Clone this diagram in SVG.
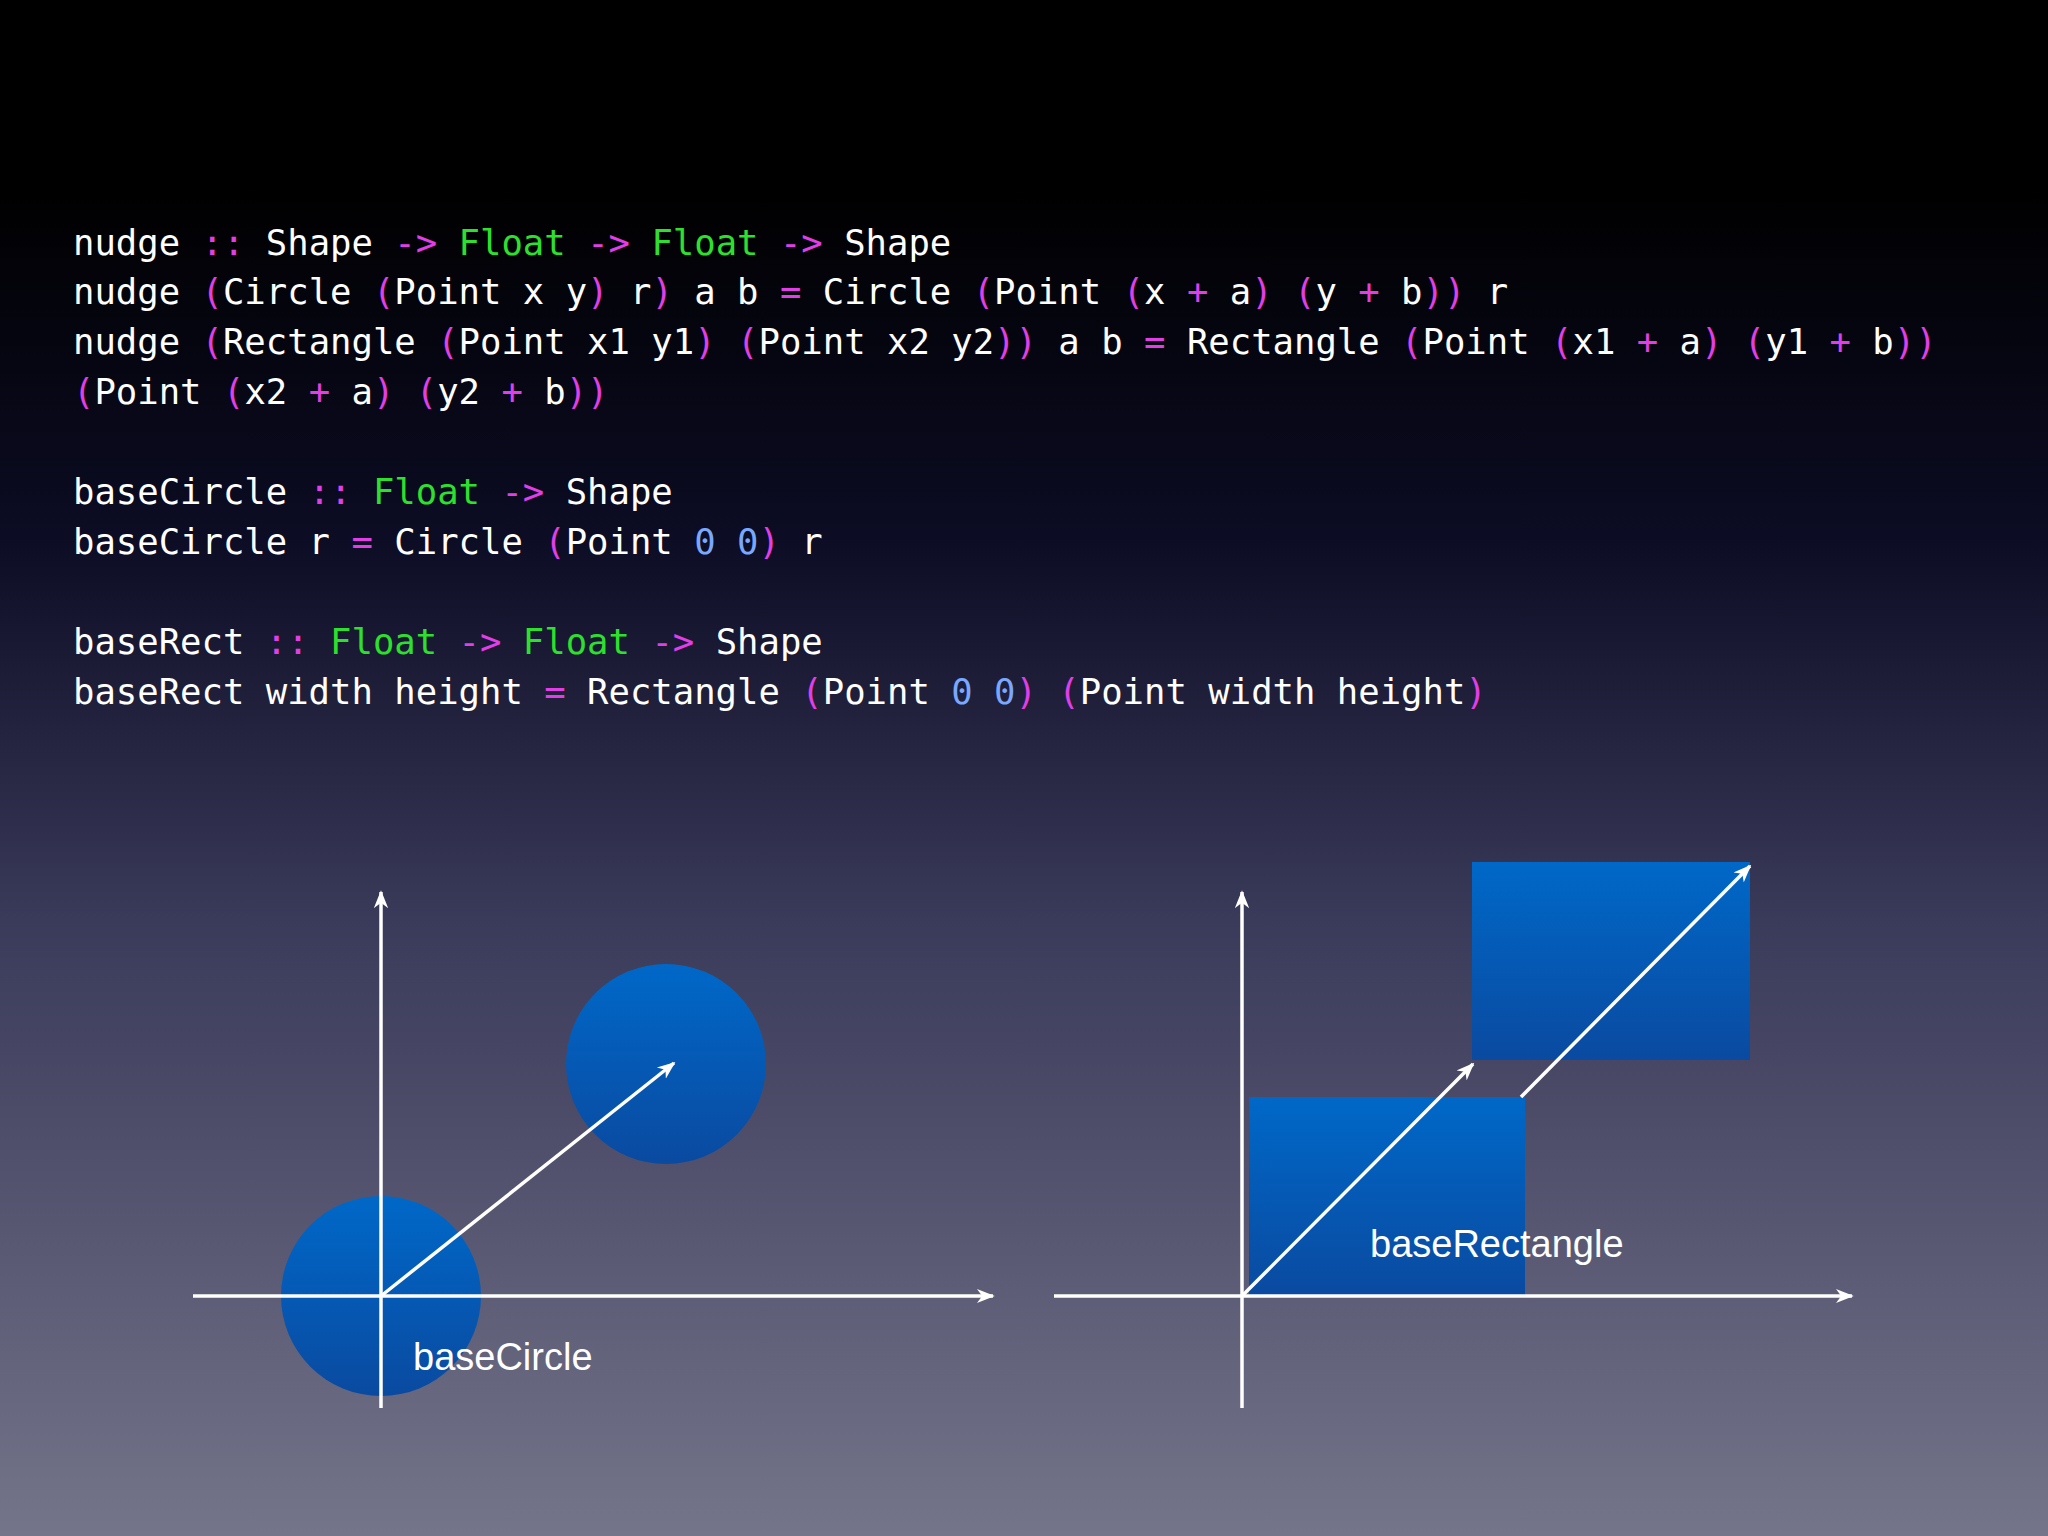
<svg xmlns="http://www.w3.org/2000/svg" width="2048" height="1536" viewBox="0 0 2048 1536">
<defs>
<linearGradient id="bg" x1="0" y1="0" x2="0" y2="1">
<stop offset="0" stop-color="#000000"/><stop offset="0.12" stop-color="#000000"/>
<stop offset="0.35" stop-color="#0c0c24"/><stop offset="0.6" stop-color="#3a3a5a"/>
<stop offset="1" stop-color="#74748a"/></linearGradient>
<linearGradient id="blue" x1="0" y1="0" x2="0" y2="1">
<stop offset="0" stop-color="#0068c8"/><stop offset="1" stop-color="#0a4aa0"/></linearGradient>
<marker id="ah2" viewBox="0 0 10 10" refX="9" refY="5" markerWidth="18" markerHeight="18" orient="auto" markerUnits="userSpaceOnUse"><path d="M0,1 L10,5 L0,9 L3,5 z" fill="#fff"/></marker>
</defs>
<style>
.c{font-family:"DejaVu Sans Mono","Liberation Mono",monospace;font-size:35.6px;fill:#fff;white-space:pre}
.p{fill:#e23ee8}.g{fill:#2ee02e}.n{fill:#7aa8ff}
.l{font-family:"Liberation Sans",Arial,sans-serif;font-size:38px;fill:#fff}
.ax{stroke:#fff;stroke-width:3.5;fill:none}
</style>
<rect width="2048" height="1536" fill="url(#bg)"/>
<g id="code">
<text class="c" x="73" y="255">nudge <tspan class="p">::</tspan> Shape <tspan class="p">-&gt;</tspan> <tspan class="g">Float</tspan> <tspan class="p">-&gt;</tspan> <tspan class="g">Float</tspan> <tspan class="p">-&gt;</tspan> Shape</text>
<text class="c" x="73" y="304">nudge <tspan class="p">(</tspan>Circle <tspan class="p">(</tspan>Point x y<tspan class="p">)</tspan> r<tspan class="p">)</tspan> a b <tspan class="p">=</tspan> Circle <tspan class="p">(</tspan>Point <tspan class="p">(</tspan>x <tspan class="p">+</tspan> a<tspan class="p">)</tspan> <tspan class="p">(</tspan>y <tspan class="p">+</tspan> b<tspan class="p">))</tspan> r</text>
<text class="c" x="73" y="354">nudge <tspan class="p">(</tspan>Rectangle <tspan class="p">(</tspan>Point x1 y1<tspan class="p">)</tspan> <tspan class="p">(</tspan>Point x2 y2<tspan class="p">))</tspan> a b <tspan class="p">=</tspan> Rectangle <tspan class="p">(</tspan>Point <tspan class="p">(</tspan>x1 <tspan class="p">+</tspan> a<tspan class="p">)</tspan> <tspan class="p">(</tspan>y1 <tspan class="p">+</tspan> b<tspan class="p">))</tspan></text>
<text class="c" x="73" y="404"><tspan class="p">(</tspan>Point <tspan class="p">(</tspan>x2 <tspan class="p">+</tspan> a<tspan class="p">)</tspan> <tspan class="p">(</tspan>y2 <tspan class="p">+</tspan> b<tspan class="p">))</tspan></text>
<text class="c" x="73" y="504">baseCircle <tspan class="p">::</tspan> <tspan class="g">Float</tspan> <tspan class="p">-&gt;</tspan> Shape</text>
<text class="c" x="73" y="554">baseCircle r <tspan class="p">=</tspan> Circle <tspan class="p">(</tspan>Point <tspan class="n">0</tspan> <tspan class="n">0</tspan><tspan class="p">)</tspan> r</text>
<text class="c" x="73" y="654">baseRect <tspan class="p">::</tspan> <tspan class="g">Float</tspan> <tspan class="p">-&gt;</tspan> <tspan class="g">Float</tspan> <tspan class="p">-&gt;</tspan> Shape</text>
<text class="c" x="73" y="704">baseRect width height <tspan class="p">=</tspan> Rectangle <tspan class="p">(</tspan>Point <tspan class="n">0</tspan> <tspan class="n">0</tspan><tspan class="p">)</tspan> <tspan class="p">(</tspan>Point width height<tspan class="p">)</tspan></text>
</g>
<g id="circle-diagram">
<circle cx="381" cy="1296" r="100" fill="url(#blue)"/>
<circle cx="666" cy="1064" r="100" fill="url(#blue)"/>
<text class="l" x="413" y="1370">baseCircle</text>
</g>
<g id="rect-diagram">
<rect x="1249" y="1097" width="276" height="199" fill="url(#blue)"/>
<rect x="1472" y="862" width="278" height="198" fill="url(#blue)"/>
<text class="l" x="1370" y="1257">baseRectangle</text>
</g>
<g id="connectors">
<line class="ax" x1="193" y1="1296" x2="993" y2="1296" marker-end="url(#ah2)"/>
<line class="ax" x1="381" y1="1408" x2="381" y2="892" marker-end="url(#ah2)"/>
<line class="ax" x1="381" y1="1296" x2="674" y2="1063" marker-end="url(#ah2)"/>
<line class="ax" x1="1054" y1="1296" x2="1852" y2="1296" marker-end="url(#ah2)"/>
<line class="ax" x1="1242" y1="1408" x2="1242" y2="892" marker-end="url(#ah2)"/>
<line class="ax" x1="1242" y1="1296" x2="1473" y2="1064" marker-end="url(#ah2)"/>
<line class="ax" x1="1521" y1="1097" x2="1750" y2="866" marker-end="url(#ah2)"/>
</g>
</svg>
